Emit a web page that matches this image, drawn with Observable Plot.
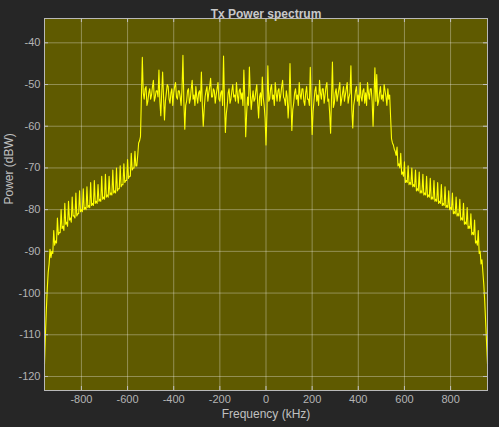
<!DOCTYPE html>
<html><head><meta charset="utf-8">
<script src="https://cdn.jsdelivr.net/npm/d3@7"></script>
<script src="https://cdn.jsdelivr.net/npm/@observablehq/plot@0.6"></script>
<style>html,body{margin:0;padding:0;background:#262626;}</style>
</head><body><div id="chart"></div>
<script>
const title = "Tx Power spectrum";
const xLabel = "Frequency (kHz)";
const yLabel = "Power (dBW)";
const xTicks = [-800, -600, -400, -200, 0, 200, 400, 600, 800];
const yTicks = [-120, -110, -100, -90, -80, -70, -60, -50, -40];
const binStep = 4; // kHz between samples

const leftSkirtStart = -960;
const leftSkirt = [
  -117, -110, -104, -99, -95, -93, -89.5, -91.5, -90, -90.5,
  -85, -88.5, -87.5, -88, -82, -86, -85.5, -85.5, -80, -84.5,
  -84, -85, -78.5, -83.5, -83, -84, -78, -82.5, -82, -83,
  -77, -81.5, -81.5, -82, -76, -81.5, -81, -81, -75.5, -80.5,
  -80, -80.5, -75, -80, -79.5, -80, -74.5, -79.5, -79, -79.5,
  -73.5, -79, -78.5, -79, -73, -78.5, -78, -78.5, -74, -78,
  -77.5, -78, -72, -77.5, -77, -77.5, -71.5, -77, -76.5, -77,
  -72, -76.5, -76, -76.5, -70.5, -76, -75.5, -76, -70, -75.5,
  -75, -75, -69.5, -74.5, -74, -74, -69, -73.5, -73, -73,
  -68, -72.5, -72, -72, -66.5, -70.5, -70, -70, -66, -69.5,
  -69.5, -67, -64, -63.5, -62.5
];

const bandStart = -536;
const band = [
  -43.5, -52, -53.5, -51, -50.5, -55, -54, -52, -51, -53.5, -52.5, -50.5, -49, -54, -53, -51.5, -51.5, -53, -46.5, -54,
  -57.5, -52, -47, -53, -58.5, -54, -52, -50, -50.5, -53.5, -54.5, -52, -51, -55, -52, -50.5, -49.5, -53, -53.5, -51.5,
  -51.5, -53, -55, -51, -43, -54, -60.7, -55, -54, -51.5, -51, -54.5, -53.5, -51, -49, -53.5, -52.5, -55, -50.5, -53,
  -54.5, -52, -51.5, -54, -47, -55, -60, -56, -53, -51.5, -50.5, -54, -52, -50.5, -48.5, -53, -53, -51, -51.5, -54.5,
  -52.5, -51, -49.5, -53.5, -54, -52, -51.5, -55, -43.2, -54, -61.5, -57, -55, -52, -51, -54.5, -53.5, -51.5, -50, -53,
  -52.5, -54, -49.5, -52.5, -54.5, -51.5, -51, -53.5, -52, -55, -46.5, -53, -62.5, -57, -53, -55, -45.8, -52, -56, -53.5,
  -51.5, -54, -53.5, -51.5, -50, -54.5, -58, -53, -52, -55, -48.2, -53, -55, -58, -64.5, -57, -45.5, -54, -53.5, -51,
  -50, -53.5, -52.5, -55, -49.5, -52, -54, -51.5, -51, -54, -52.5, -50.5, -49, -53, -53.5, -55, -51.5, -53, -58, -54,
  -45, -54, -61, -56, -54.5, -52, -51, -53.5, -52.5, -55, -49.5, -52.5, -53.5, -51, -51, -54, -55, -52, -50.5, -53.5,
  -53.5, -55, -45.9, -54, -62, -56.5, -54, -51.5, -50.5, -54, -52.5, -55, -49, -52, -53.5, -51, -51, -54.5, -52.5, -50.5,
  -49.5, -54, -53.5, -57, -61.7, -53, -44.6, -55.5, -54.5, -52, -51, -54, -52.5, -51, -49.5, -55, -53.5, -52, -50.5, -54,
  -52.5, -51, -49.5, -54.5, -53, -52, -45.5, -56, -60.4, -55, -53.5, -51.5, -50.5, -54, -52.5, -55, -49.5, -53, -54, -51.5,
  -51, -54.5, -52, -55, -49.5, -52, -53.5, -51, -51, -54, -60, -53, -46, -54, -47.6, -55, -54, -52, -50.5, -53.5,
  -52.5, -54, -50, -51.5, -53, -55, -51, -53.5, -52.5
];

const rightSkirtStart = 544;
const rightSkirt = [
  -63, -64, -64.5, -65.5, -66, -67, -65, -69.5, -69, -70,
  -66.5, -71.5, -71, -72, -68.5, -73.5, -73, -73.5, -69.5, -74,
  -73.5, -74, -70, -74.5, -74, -74.5, -70.5, -75.5, -75, -75.5,
  -71, -76, -75.5, -76, -71.5, -76.5, -76, -76.5, -72, -77,
  -76.5, -77, -72.5, -77.5, -77, -77.5, -73, -78, -77.5, -78,
  -73.5, -78.5, -78, -78.5, -74, -79, -78.5, -79, -74.5, -79.5,
  -79, -79.5, -75.5, -80, -79.5, -80, -76, -81, -80.5, -81,
  -77, -81.5, -81, -81.5, -77.5, -82.5, -82, -82.5, -78.5, -83.5,
  -83, -83.5, -79.5, -84.5, -84, -84.5, -81, -86, -85.5, -86,
  -82.5, -88, -87.5, -88.5, -85, -90.5, -90, -93, -92, -95,
  -98, -102, -107, -112, -117
];

const data = [];
leftSkirt.forEach((p, i) => data.push({f: leftSkirtStart + i * binStep, p}));
band.forEach((p, i) => data.push({f: bandStart + i * binStep, p}));
rightSkirt.forEach((p, i) => data.push({f: rightSkirtStart + i * binStep, p}));

const xDom = [-960, 960];
const yDom = [-123.36, -34.17];
const tickX = 4 * (xDom[1] - xDom[0]) / 443;
const tickY = 4 * (yDom[1] - yDom[0]) / 372;
const axisCol = "#b4b4b4";
const tickCol = "#c0c0c0";

const chart = Plot.plot({
  width: 499, height: 427,
  marginLeft: 44, marginRight: 12, marginTop: 18, marginBottom: 37,
  style: {background: "#262626", fontFamily: "'Liberation Sans', Arial, sans-serif", fontSize: "11px", color: axisCol},
  x: {domain: xDom, axis: null},
  y: {domain: yDom, axis: null},
  marks: [
    Plot.frame({fill: "#5f5a00", stroke: "none"}),
    Plot.ruleX(xTicks, {x: d => d, stroke: "#ffffff", strokeOpacity: 0.33, strokeWidth: 1}),
    Plot.ruleY(yTicks, {y: d => d, stroke: "#ffffff", strokeOpacity: 0.33, strokeWidth: 1}),
    Plot.line(data, {x: "f", y: "p", stroke: "#ffff00", strokeWidth: 1.1}),
    Plot.frame({stroke: "#b8b8b8", strokeWidth: 1}),
    Plot.ruleX(xTicks, {x: d => d, y1: yDom[0], y2: yDom[0] + tickY, stroke: tickCol}),
    Plot.ruleX(xTicks, {x: d => d, y1: yDom[1], y2: yDom[1] - tickY, stroke: tickCol}),
    Plot.ruleY(yTicks, {y: d => d, x1: xDom[0], x2: xDom[0] + tickX, stroke: tickCol}),
    Plot.ruleY(yTicks, {y: d => d, x1: xDom[1], x2: xDom[1] - tickX, stroke: tickCol}),
    Plot.text(xTicks, {x: d => d, frameAnchor: "bottom", dy: 12, text: d => String(d), fill: axisCol, fontSize: 11}),
    Plot.text(yTicks, {y: d => d, frameAnchor: "left", dx: -4, textAnchor: "end", text: d => String(d), fill: axisCol, fontSize: 11}),
    Plot.text([title], {frameAnchor: "top", dy: -9.5, text: d => d, fontWeight: "bold", fontSize: 12, fill: "#c8c8c8"}),
    Plot.text([xLabel], {frameAnchor: "bottom", dy: 27, text: d => d, fontSize: 12, fill: "#c0c0c0"}),
    Plot.text([yLabel], {frameAnchor: "left", dx: -35, rotate: -90, text: d => d, fontSize: 12, fill: "#c0c0c0"})
  ]
});
document.getElementById("chart").appendChild(chart);
</script>
</body></html>
